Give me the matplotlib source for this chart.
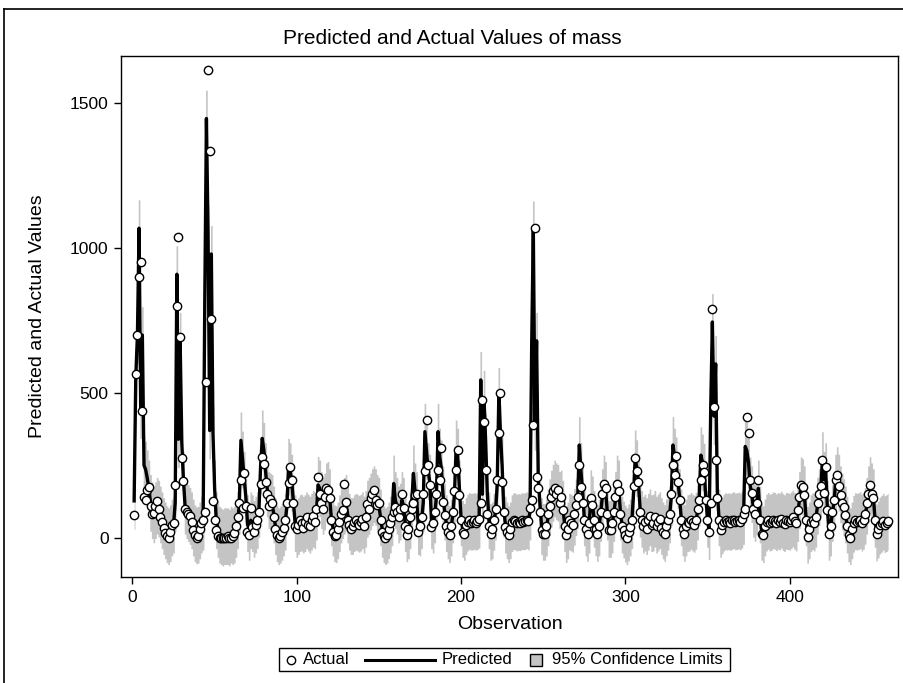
import numpy as np
import matplotlib.pyplot as plt
from matplotlib.lines import Line2D
from matplotlib.patches import Rectangle

plt.rcParams["font.family"] = ["Liberation Sans", "DejaVu Sans"]

actual = [
    78, 565, 700, 900, 954, 436, 140, 130, 165, 175, 110, 80, 85, 110, 125, 100, 70, 55, 35, 15,
    5, 0, 20, 45, 50, 183, 800, 1037, 693, 275, 195, 100, 90, 80, 75, 55, 25, 10, 0, 5,
    30, 50, 60, 90, 537, 1615, 1337, 757, 125, 60, 25, 5, 0, 0, 0, 0, 0, 5, 0, 0,
    5, 15, 40, 70, 120, 199, 102, 222, 110, 20, 10, 101, 37, 20, 45, 60, 90, 186, 280, 256,
    191, 150, 110, 135, 118, 70, 30, 10, 0, 5, 20, 35, 60, 120, 190, 245, 199, 118, 40, 30,
    45, 60, 50, 35, 55, 70, 45, 40, 60, 75, 55, 100, 210, 150, 120, 100, 140, 170, 164, 136,
    60, 20, 5, 10, 30, 55, 80, 95, 185, 124, 60, 45, 30, 40, 55, 60, 50, 45, 55, 65,
    40, 70, 115, 100, 137, 150, 164, 130, 112, 118, 60, 20, 5, 0, 10, 30, 50, 70, 89, 106,
    90, 70, 100, 152, 101, 40, 9, 30, 70, 100, 118, 147, 152, 20, 40, 70, 150, 230, 408, 250,
    181, 37, 50, 90, 150, 233, 200, 308, 123, 78, 40, 20, 9, 40, 90, 160, 233, 302, 147, 60,
    20, 14, 45, 55, 60, 50, 55, 60, 52, 58, 65, 118, 475, 400, 233, 83, 40, 14, 30, 60,
    100, 200, 360, 498, 191, 90, 37, 20, 9, 30, 55, 60, 58, 50, 55, 52, 60, 55, 58, 62,
    58, 101, 130, 389, 1070, 210, 170, 89, 26, 14, 14, 40, 80, 110, 140, 160, 170, 150, 164, 120,
    141, 95, 40, 9, 30, 60, 50, 45, 80, 112, 140, 250, 176, 118, 60, 30, 14, 50, 136, 112,
    60, 30, 14, 40, 90, 150, 187, 170, 80, 26, 26, 50, 90, 140, 187, 160, 80, 40, 26, 10,
    0, 20, 37, 60, 180, 274, 230, 191, 90, 60, 40, 55, 30, 60, 75, 45, 50, 70, 40, 55,
    65, 35, 20, 14, 40, 60, 83, 150, 250, 216, 282, 191, 129, 60, 30, 14, 40, 55, 50, 60,
    55, 45, 60, 100, 129, 200, 251, 228, 129, 60, 20, 120, 790, 451, 268, 136, 60, 26, 45, 55,
    60, 55, 58, 52, 60, 62, 55, 58, 60, 55, 65, 80, 100, 418, 360, 200, 153, 100, 80, 120,
    199, 60, 14, 9, 40, 55, 60, 50, 55, 62, 58, 50, 60, 55, 65, 52, 48, 60, 58, 55,
    62, 70, 58, 50, 95, 140, 181, 176, 147, 60, 3, 30, 55, 60, 50, 70, 120, 150, 180, 268,
    153, 245, 95, 14, 40, 90, 130, 200, 216, 180, 147, 120, 106, 78, 40, 10, 0, 30, 50, 60,
    55, 58, 62, 50, 60, 80, 118, 150, 181, 150, 136, 60, 14, 30, 45, 50, 57, 43, 50, 57,
]
predicted = [
    127, 556, 700, 1069, 440, 700, 250, 235, 205, 170, 120, 95, 80, 95, 110, 100, 80, 60, 40, 25,
    12, 5, 15, 35, 45, 120, 910, 340, 680, 330, 200, 110, 95, 85, 75, 60, 35, 15, 8, 10,
    25, 45, 55, 820, 1448, 1050, 370, 980, 360, 170, 60, 30, 10, 5, 0, 5, 5, 5, 0, 10,
    5, 10, 30, 60, 110, 336, 270, 200, 140, 50, 20, 60, 50, 30, 45, 60, 100, 250, 343, 300,
    230, 170, 130, 125, 120, 80, 40, 15, 5, 10, 20, 35, 55, 110, 245, 230, 190, 120, 50, 30,
    40, 50, 52, 45, 50, 60, 52, 45, 55, 65, 60, 90, 182, 170, 130, 110, 125, 160, 165, 140,
    70, 35, 15, 12, 25, 50, 80, 95, 110, 120, 80, 55, 40, 40, 50, 55, 52, 48, 52, 60,
    45, 65, 100, 110, 125, 140, 150, 140, 120, 110, 70, 30, 12, 5, 10, 25, 45, 70, 187, 130,
    110, 80, 90, 130, 110, 50, 15, 25, 60, 120, 222, 160, 130, 40, 35, 60, 120, 366, 300, 230,
    190, 60, 45, 80, 140, 366, 280, 240, 150, 90, 50, 25, 12, 35, 80, 150, 308, 280, 170, 70,
    30, 20, 40, 52, 58, 55, 55, 58, 55, 57, 62, 545, 150, 480, 330, 150, 60, 20, 25, 55,
    90, 180, 490, 360, 250, 100, 45, 25, 12, 25, 50, 57, 56, 52, 54, 53, 57, 56, 57, 60,
    56, 90, 665, 1065, 400, 680, 200, 120, 40, 20, 20, 35, 70, 105, 135, 155, 170, 160, 155, 130,
    135, 100, 50, 12, 25, 55, 52, 48, 72, 105, 130, 320, 230, 160, 70, 35, 16, 45, 136, 115,
    65, 35, 16, 35, 85, 140, 187, 165, 90, 30, 30, 45, 85, 130, 187, 170, 90, 45, 28, 14,
    5, 18, 35, 60, 150, 274, 240, 190, 100, 65, 45, 52, 40, 55, 70, 50, 52, 65, 45, 52,
    60, 40, 25, 16, 35, 55, 80, 140, 320, 280, 250, 200, 140, 70, 35, 16, 35, 50, 52, 58,
    52, 48, 58, 90, 140, 285, 260, 228, 140, 65, 22, 451, 745, 420, 600, 160, 70, 30, 42, 52,
    57, 55, 57, 54, 58, 60, 56, 57, 59, 56, 62, 75, 315, 300, 260, 180, 150, 100, 85, 110,
    170, 80, 20, 12, 35, 52, 58, 52, 54, 60, 58, 53, 58, 56, 62, 54, 50, 58, 57, 55,
    60, 66, 58, 52, 85, 130, 181, 175, 150, 70, 10, 25, 50, 57, 52, 65, 110, 140, 170, 268,
    200, 230, 100, 20, 35, 85, 120, 190, 216, 190, 150, 125, 105, 80, 45, 15, 5, 25, 48, 57,
    55, 57, 60, 52, 58, 75, 110, 150, 181, 160, 140, 65, 18, 28, 42, 48, 55, 47, 50, 55,
]
ci_halfwidth = 98  # distance from predicted to each 95% limit

obs = np.arange(1, len(actual) + 1)
pred = np.array(predicted, dtype=float)
lower = pred - ci_halfwidth
upper = pred + ci_halfwidth

fig = plt.figure(figsize=(9.04, 6.83), dpi=100)
W, H = 904, 683
ax = fig.add_axes([121 / W, 1 - 577 / H, 777 / W, 521 / H])

ax.fill_between(obs, lower, upper, step="mid", color="#c4c4c4", lw=0, zorder=1)
ax.plot(obs, pred, color="black", lw=2.4, zorder=2)
ax.plot(obs, actual, ls="none", marker="o", ms=6, mfc="white", mec="black", mew=1.0, zorder=3)

ax.set_xlim(-7, 466)
ax.set_ylim(-136, 1664)
ax.set_xticks([0, 100, 200, 300, 400])
ax.set_yticks([0, 500, 1000, 1500])
ax.tick_params(direction="out", length=5, width=1, labelsize=12.5, pad=4)
for s in ax.spines.values():
    s.set_linewidth(1.0)

ax.set_xlabel("Observation", fontsize=14)
ax.set_ylabel("Predicted and Actual Values", fontsize=14)
ax.xaxis.set_label_coords(0.5, -0.075)
ax.yaxis.set_label_coords(-0.096, 0.5)

fig.text(452 / W, 1 - 38 / H, "Predicted and Actual Values of mass", ha="center", va="center", fontsize=15)

# outer frame of the graph area
fig.add_artist(Line2D([4 / W, 4 / W], [0, 1 - 9 / H], color="black", lw=1.2))
fig.add_artist(Line2D([4 / W, 1], [1 - 9 / H, 1 - 9 / H], color="black", lw=1.2))


def fx(px):
    return px / W


def fy(py):
    return 1 - py / H


# legend built like the SAS one: circle, long line, shaded square
fig.add_artist(Rectangle((fx(279), fy(671)), (730 - 279) / W, 23 / H, fill=False, ec="black", lw=1.0))
ly = fy(659.5)
fig.add_artist(Line2D([fx(291)], [ly], ls="none", marker="o", ms=6, mfc="white", mec="black", mew=1.0))
fig.text(fx(303), ly, "Actual", ha="left", va="center", fontsize=12)
fig.add_artist(Line2D([fx(365), fx(435)], [ly, ly], color="black", lw=2.2))
fig.text(fx(442), ly, "Predicted", ha="left", va="center", fontsize=12)
fig.add_artist(Rectangle((fx(530), fy(666)), 12 / W, 12 / H, fc="#c4c4c4", ec="black", lw=1.0))
fig.text(fx(552), ly, "95% Confidence Limits", ha="left", va="center", fontsize=12)

fig.savefig("out.png", dpi=100)
